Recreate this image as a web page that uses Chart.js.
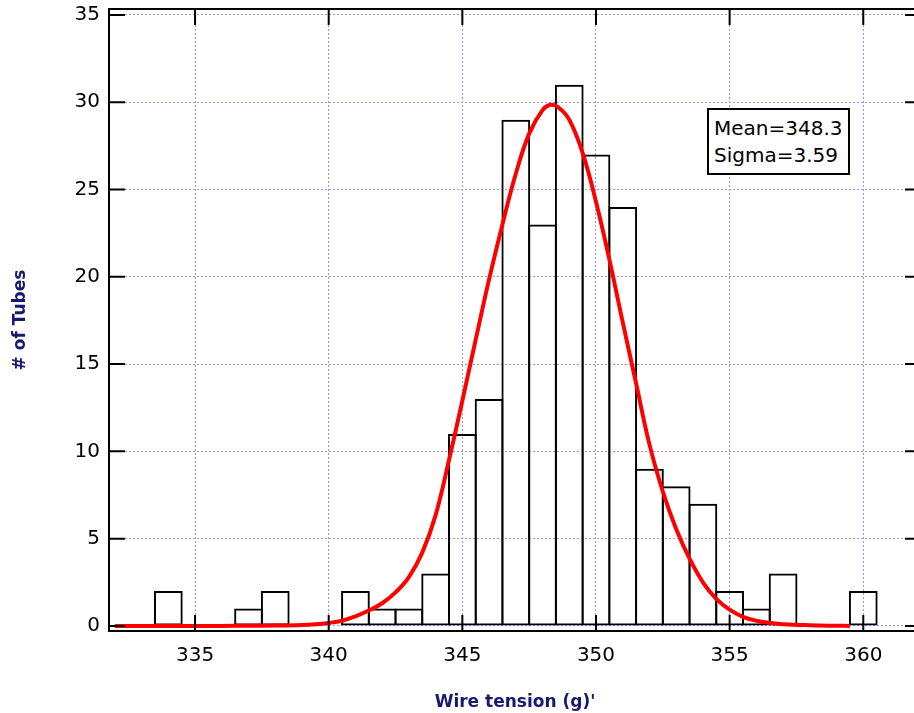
<!DOCTYPE html>
<html>
<head>
<meta charset="utf-8">
<script src="https://cdn.jsdelivr.net/npm/chart.js@4.4.0/dist/chart.umd.min.js"></script>
<style>
html,body{margin:0;padding:0;overflow:hidden;background:#fff;width:914px;height:713px}
#wrap{position:relative;width:930px;height:713px}
#legendBox{position:absolute;left:707px;top:108px;width:143px;height:67px;box-sizing:border-box;border:2px solid #000;background:#fff;
  font-family:"DejaVu Sans",sans-serif;font-size:20px;line-height:26.5px;padding:5px 0 0 5px;color:#000;white-space:nowrap}
</style>
</head>
<body>
<div id="wrap">
  <canvas id="c"></canvas>
  <div id="legendBox"><div>Mean=348.3</div><div>Sigma=3.59</div></div>
</div>
<script>
// Histogram bins (bin centres, width 1) and counts
const bins   = [334, 337, 338, 341, 342, 343, 344, 345, 346, 347, 348, 349, 350, 351, 352, 353, 354, 355, 356, 357, 360];
const counts = [2,   1,   2,   2,   1,   1,   3,   11,  13,  29,  23,  31,  27,  24,  9,   8,   7,   2,   1,   3,   2];

// Fitted curve
const curveX = [332, 334, 336, 337, 338, 339, 339.5, 340, 340.5, 341, 341.5, 342, 342.5, 343, 343.5, 344, 344.5, 345, 345.5, 346, 346.5, 347, 347.5, 348, 348.3, 348.6, 349, 349.5, 350, 350.5, 351, 351.5, 352, 352.5, 353, 353.5, 354, 354.5, 355, 355.5, 356, 356.5, 357, 358, 359, 359.5];
const curveY = [0,   0,   0,   0.01, 0.02, 0.05, 0.09, 0.17, 0.3, 0.55, 0.88, 1.3, 1.92, 2.8, 4.2, 6.35, 9.5, 12.9, 16.4, 19.85, 23.0, 25.9, 28.2, 29.55, 29.85, 29.7, 29.0, 27.1, 24.3, 21.0, 17.4, 13.9, 10.4, 7.7, 5.55, 3.85, 2.5, 1.55, 0.93, 0.52, 0.3, 0.18, 0.1, 0.04, 0.01, 0];

// Tick labels
const xTicks = [335, 340, 345, 350, 355, 360];
const yTicks = [0, 5, 10, 15, 20, 25, 30, 35];

const xTitle = "Wire tension (g)'";
const yTitle = "# of Tubes";

const framePlugin = {
  id: 'frame',
  afterDraw(chart) {
    const {ctx, chartArea: a, scales: {x, y}} = chart;
    ctx.save();
    ctx.strokeStyle = '#000';
    ctx.lineWidth = 2;
    ctx.beginPath();
    xTicks.forEach(v => {
      const p = x.getPixelForValue(v);
      ctx.moveTo(p, a.bottom); ctx.lineTo(p, a.bottom - 16);
      ctx.moveTo(p, a.top); ctx.lineTo(p, a.top + 16);
    });
    yTicks.forEach(v => {
      const p = y.getPixelForValue(v);
      ctx.moveTo(a.left, p); ctx.lineTo(a.left + 16, p);
      ctx.moveTo(a.right, p); ctx.lineTo(a.right - 16, p);
    });
    ctx.stroke();
    ctx.strokeRect(a.left, a.top, a.right - a.left, a.bottom - a.top);
    ctx.restore();
  }
};

const gridColor = '#9494ff';

new Chart(document.getElementById('c'), {
  type: 'bar',
  data: {
    datasets: [
      {
        type: 'line',
        label: 'Fit',
        data: curveX.map((v, i) => ({x: v, y: curveY[i]})),
        borderColor: '#ff0000',
        borderWidth: 4,
        pointRadius: 0,
        fill: false,
        tension: 0.4,
        order: 0
      },
      {
        type: 'bar',
        label: 'Tubes',
        data: bins.map((v, i) => ({x: v, y: counts[i]})),
        backgroundColor: 'rgba(0,0,0,0)',
        borderColor: '#000',
        borderWidth: 2,
        borderSkipped: false,
        categoryPercentage: 1,
        barPercentage: 1.075,
        order: 1
      }
    ]
  },
  options: {
    responsive: true,
    maintainAspectRatio: false,
    animation: false,
    layout: {padding: {top: 9, right: 9, left: 0, bottom: 0}},
    plugins: {legend: {display: false}, tooltip: {enabled: false}},
    scales: {
      x: {
        type: 'linear',
        min: 331.78,
        max: 362.16,
        offset: false,
        afterBuildTicks: s => { s.ticks = xTicks.map(v => ({value: v})); },
        afterFit: s => { s.height = 82; s.paddingLeft = 0; s.paddingRight = 0; },
        grid: {color: gridColor, lineWidth: 1, drawTicks: false, offset: false},
        border: {display: false, dash: [2, 2]},
        ticks: {font: {family: 'DejaVu Sans', size: 20}, color: '#000', padding: 13, maxRotation: 0, autoSkip: false},
        title: {display: true, text: xTitle, color: '#191970', font: {family: 'DejaVu Sans', size: 17, weight: 'bold'}, padding: {top: 0, bottom: 0}}
      },
      y: {
        type: 'linear',
        min: -0.29,
        max: 35.34,
        afterBuildTicks: s => { s.ticks = yTicks.map(v => ({value: v})); },
        afterFit: s => { s.width = 109; s.paddingTop = 0; s.paddingBottom = 0; },
        grid: {color: gridColor, lineWidth: 1, drawTicks: false},
        border: {display: false, dash: [2, 2]},
        ticks: {font: {family: 'DejaVu Sans', size: 20}, color: '#000', padding: 9},
        title: {display: true, text: yTitle, color: '#191970', font: {family: 'DejaVu Sans', size: 17, weight: 'bold'}, padding: {top: 10, bottom: 0}}
      }
    }
  },
  plugins: [framePlugin]
});
</script>
</body>
</html>
